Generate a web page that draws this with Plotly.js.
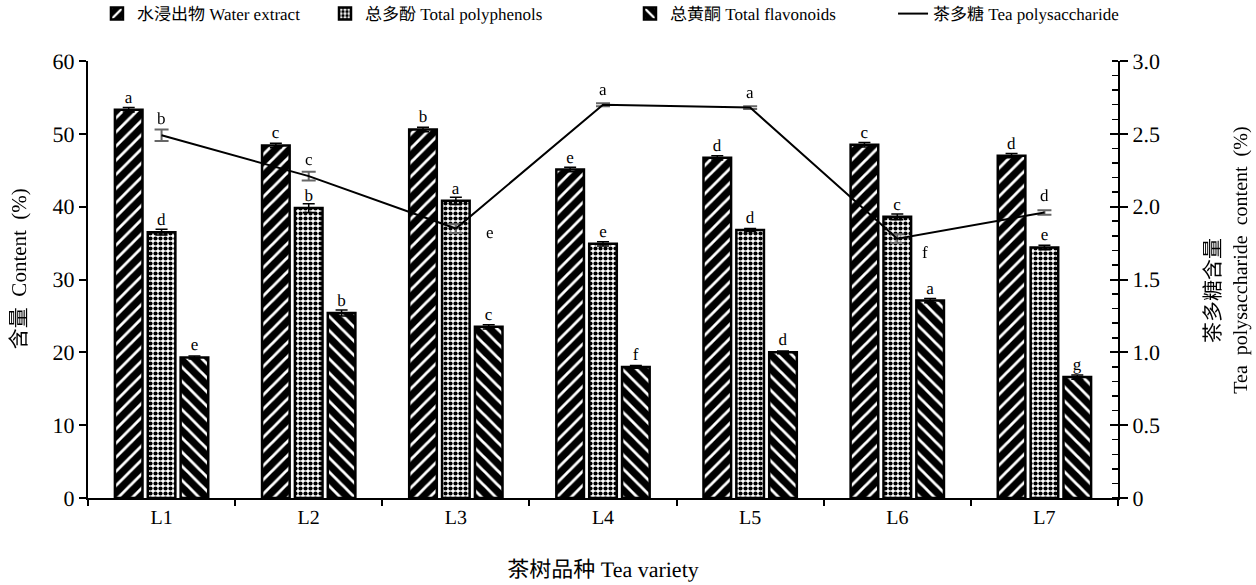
<!DOCTYPE html>
<html>
<head>
<meta charset="utf-8">
<script src="https://cdn.plot.ly/plotly-3.0.1.min.js"></script>
<style>html,body{margin:0;padding:0;background:#fff;}#chart{width:1256px;height:585px;}svg text{text-rendering:geometricPrecision;}.annotation text{filter:grayscale(100%);}</style>
</head>
<body>
<div id="chart"></div>
<script>
const categories = ['L1', 'L2', 'L3', 'L4', 'L5', 'L6', 'L7'];
const waterExtract = [53.3, 48.4, 50.6, 45.1, 46.7, 48.5, 47.0];
const waterErr = [0.3, 0.3, 0.3, 0.3, 0.3, 0.3, 0.3];
const waterLetters = ['a', 'c', 'b', 'e', 'd', 'c', 'd'];
const polyphenols = [36.5, 39.8, 40.8, 34.9, 36.8, 38.6, 34.4];
const polyErr = [0.4, 0.6, 0.5, 0.3, 0.2, 0.4, 0.3];
const polyLetters = ['d', 'b', 'a', 'e', 'd', 'c', 'e'];
const flavonoids = [19.3, 25.4, 23.5, 18.0, 20.0, 27.1, 16.6];
const flavErr = [0.2, 0.4, 0.3, 0.2, 0.2, 0.3, 0.3];
const flavLetters = ['e', 'b', 'c', 'f', 'd', 'a', 'g'];
const polysaccharide = [2.49, 2.21, 1.85, 2.70, 2.68, 1.78, 1.96];
const polysErr = [0.04, 0.03, 0.03, 0.01, 0.01, 0.03, 0.015];
const polysLetters = ['b', 'c', 'e', 'a', 'a', 'f', 'd'];
const polysLetterShift = [[0, 17], [0, 17], [34, -4], [0, 15], [0, 15], [28, -14], [0, 17]];

const FONT = 'Liberation Serif, Times New Roman, Noto Sans CJK SC, serif';

function barTrace(name, y, err, letters, pattern, legendId) {
  return {
    type: 'bar', name: name, x: categories, y: y,
    legend: legendId,
    marker: {color: '#000', line: {color: '#000', width: 2.5}, pattern: pattern},
    error_y: {type: 'data', array: err, visible: true, color: '#000', thickness: 1.5, width: 6},
    text: letters, textposition: 'outside', cliponaxis: false,
    textfont: {family: FONT, size: 17, color: '#000'},
    hoverinfo: 'skip'
  };
}

const traces = [
  barTrace('水浸出物 Water extract', waterExtract, waterErr, waterLetters,
    {shape: '/', bgcolor: '#000', fgcolor: '#fff', size: 10, solidity: 0.28, fillmode: 'replace'}, 'legend'),
  barTrace('总多酚 Total polyphenols', polyphenols, polyErr, polyLetters,
    {shape: '.', bgcolor: '#fff', fgcolor: '#000', size: 5, solidity: 0.55, fillmode: 'replace'}, 'legend2'),
  barTrace('总黄酮 Total flavonoids', flavonoids, flavErr, flavLetters,
    {shape: '\\', bgcolor: '#000', fgcolor: '#fff', size: 10, solidity: 0.28, fillmode: 'replace'}, 'legend3'),
  {
    type: 'scatter', mode: 'lines', name: '茶多糖 Tea polysaccharide',
    x: categories, y: polysaccharide, yaxis: 'y2', legend: 'legend4',
    line: {color: '#000', width: 2},
    error_y: {type: 'data', array: polysErr, visible: true, color: '#666', thickness: 2, width: 7},
    cliponaxis: false, hoverinfo: 'skip'
  },
  {
    type: 'scatter', mode: 'markers', x: categories, y: polysaccharide, yaxis: 'y3',
    marker: {opacity: 0}, showlegend: false, hoverinfo: 'skip'
  }
];

const annotations = categories.map((c, i) => ({
  x: c, y: polysaccharide[i], xref: 'x', yref: 'y2', text: polysLetters[i],
  showarrow: false, xshift: polysLetterShift[i][0], yshift: polysLetterShift[i][1],
  font: {family: FONT, size: 17, color: '#000'}
}));
annotations.push(
  {xref: 'paper', yref: 'paper', x: -0.0670, y: 0.526, xanchor: 'center', yanchor: 'middle',
   text: '含量  Content  (%)', textangle: -90,
   showarrow: false, font: {family: FONT, size: 21, color: '#000'}},
  {xref: 'paper', yref: 'paper', x: 1.0922, y: 0.476, xanchor: 'center', yanchor: 'middle',
   text: '茶多糖含量', textangle: -90,
   showarrow: false, font: {family: FONT, size: 21, color: '#000'}},
  {xref: 'paper', yref: 'paper', x: 1.1194, y: 0.545, xanchor: 'center', yanchor: 'middle',
   text: 'Tea  polysaccharide  content  (%)', textangle: -90,
   showarrow: false, font: {family: FONT, size: 20, color: '#000'}}
);

function legendAt(x) {
  return {orientation: 'h', x: x, y: 0.976, xref: 'paper', yref: 'container', xanchor: 'left', yanchor: 'middle',
    font: {family: FONT, size: 17, color: '#000'}, bgcolor: 'rgba(0,0,0,0)', itemwidth: 30, tracegroupgap: 0};
}

const layout = {
  width: 1256, height: 585,
  margin: {l: 88, r: 138, t: 61, b: 87},
  paper_bgcolor: '#fff', plot_bgcolor: '#fff',
  font: {family: FONT, color: '#000'},
  barmode: 'group', bargap: 0.33, bargroupgap: 0.16,
  showlegend: true,
  legend: legendAt(0.0087),
  legend2: legendAt(0.2301),
  legend3: legendAt(0.5262),
  legend4: legendAt(0.7816),
  xaxis: {
    type: 'category', range: [-0.5, 6.5],
    showline: true, linecolor: '#000', linewidth: 2,
    ticks: 'outside', tickson: 'boundaries', ticklen: 6, tickwidth: 2, tickcolor: '#000',
    tickfont: {family: FONT, size: 20}, showgrid: false, zeroline: false,
    title: {text: '茶树品种 Tea variety', font: {family: FONT, size: 22}, standoff: 34}
  },
  yaxis: {
    range: [0, 60], dtick: 10, showline: true, linecolor: '#000', linewidth: 2,
    ticks: 'outside', ticklen: 7, tickwidth: 2, tickcolor: '#000',
    tickfont: {family: FONT, size: 22}, showgrid: false, zeroline: false
  },
  yaxis2: {
    overlaying: 'y', side: 'right', range: [0, 3],
    tickvals: [0, 0.5, 1, 1.5, 2, 2.5, 3], ticktext: ['0', '0.5', '1.0', '1.5', '2.0', '2.5', '3.0'],
    showline: true, linecolor: '#000', linewidth: 2,
    ticks: 'outside', ticklen: 8, tickwidth: 2, tickcolor: '#000',
    minor: {dtick: 0.1, ticks: 'inside', ticklen: 6, tickwidth: 1.5, tickcolor: '#000', showgrid: false},
    tickfont: {family: FONT, size: 22}, showgrid: false, zeroline: false
  },
  yaxis3: {
    overlaying: 'y', side: 'right', range: [0, 3],
    tickvals: [0, 0.5, 1, 1.5, 2, 2.5, 3], showticklabels: false,
    showline: false, ticks: 'inside', ticklen: 8, tickwidth: 2, tickcolor: '#000',
    showgrid: false, zeroline: false
  },
  annotations: annotations
};

Plotly.newPlot('chart', traces, layout, {displayModeBar: false, staticPlot: true});
</script>
</body>
</html>
